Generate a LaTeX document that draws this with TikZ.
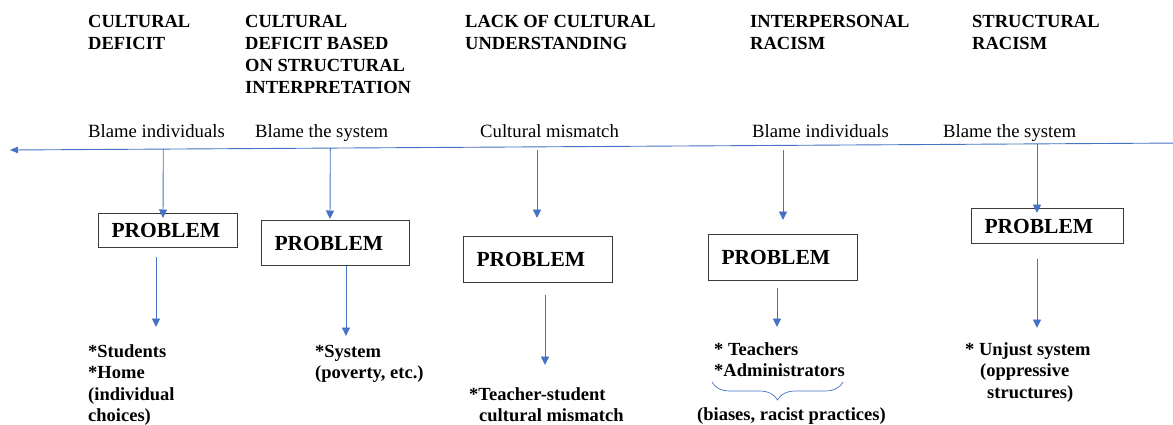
\documentclass[tikz,border=0pt]{standalone}
\usepackage{fontspec}
\setmainfont{Liberation Serif}
\usepackage{xcolor}
\definecolor{LINEcolor}{HTML}{4472C4}
\definecolor{BOXcolor}{HTML}{3A3A3A}
\usepackage{tikz}
\usetikzlibrary{arrows.meta, decorations.pathreplacing}

\begin{document}
\begin{tikzpicture}[x=1pt, y=-1pt]
    \tikzset{%
        heading/.style={anchor=base west, inner sep=0, align=left,
                font=\fontsize{18.5}{22}\selectfont\bfseries},
        blame/.style={anchor=base west, inner sep=0,
                font=\fontsize{18.7}{22}\selectfont},
        effect/.style={anchor=base west, inner sep=0, align=left,
                font=\fontsize{18.5}{21.5}\selectfont\bfseries},
        problem/.style args={#1/#2}{draw=BOXcolor, line width=1pt, anchor=north west,
                inner xsep=13pt, inner ysep=0, text width={#1-26pt}, minimum height=#2,
                align=left, font=\fontsize{21.5}{24}\selectfont\bfseries},
        flow/.style={draw=LINEcolor, line width=0.9pt, -{Triangle[length=8.5pt, width=8pt]}},
    }

    \useasboundingbox (0, 0) rectangle (1173, 424);

    % headings (base anchor sits on the last line)
    \node [heading] (hdeficit) at (88, 49) {CULTURAL\\DEFICIT};
    \node [heading] (hstructdeficit) at (245, 93) {CULTURAL\\DEFICIT BASED\\ON STRUCTURAL\\INTERPRETATION};
    \node [heading] (hlack) at (465, 49) {LACK OF CULTURAL\\UNDERSTANDING};
    \node [heading] (hinter) at (750, 49) {INTERPERSONAL\\RACISM};
    \node [heading] (hstruct) at (972, 49) {STRUCTURAL\\RACISM};

    % labels above the time line
    \node [blame] (bdeficit) at (88, 137) {Blame individuals};
    \node [blame] (bstructdeficit) at (255, 137) {Blame the system};
    \node [blame] (black) at (480, 137) {Cultural mismatch};
    \node [blame] (binter) at (752, 137) {Blame individuals};
    \node [blame] (bstruct) at (943, 137) {Blame the system};

    % time line
    \coordinate (timeL) at (10, 150);
    \coordinate (timeR) at (1182, 143);
    \draw [draw=LINEcolor, line width=0.9pt, {Triangle[length=8pt, width=6.5pt]}-{Triangle[length=8pt, width=6.5pt]}] (timeL) -- (timeR);

    \path (timeL) -- (timeR)
        coordinate [pos=0.1308] (up1)
        coordinate [pos=0.2733] (up2)
        coordinate [pos=0.8763] (up5);
    \coordinate (up3) at (537, 150);
    \coordinate (up4) at (783, 150);

    % problem boxes
    \node [problem=139pt/34pt] (box1) at (98, 213) {PROBLEM};
    \node [problem=148pt/45pt] (box2) at (261, 220) {PROBLEM};
    \node [problem=149pt/46pt] (box3) at (463, 236) {PROBLEM};
    \node [problem=149pt/46pt] (box4) at (708, 234) {PROBLEM};
    \node [problem=152pt/35pt] (box5) at (971, 208) {PROBLEM};

    \coordinate (dn1) at (163, 218);
    \coordinate (dn2) at (330, 219);
    \coordinate (dn3) at (537, 218);
    \coordinate (dn4) at (783, 220);
    \coordinate (dn5) at (1037, 213);
    \draw [flow] (up1) -- (dn1);
    \draw [flow] (up2) -- (dn2);
    \draw [flow] (up3) -- (dn3);
    \draw [flow] (up4) -- (dn4);
    \draw [flow] (up5 -| dn5) -- (dn5);

    % who is blamed
    \node [effect] (students) at (88, 421.5) {*Students\\*Home\\(individual\\choices)};
    \node [effect] (system) at (315, 378.5) {*System\\(poverty, etc.)};
    \node [effect] (mismatch) at (469, 421.5) {*Teacher-student\\\hspace*{10pt}cultural mismatch};
    \node [effect] (teachers) at (714, 376.5) {* Teachers\\*Administrators};
    \node [effect] (biases) at (697, 420) {(biases, racist practices)};
    \node [effect] (unjust) at (965, 398) {* Unjust system\\\hspace*{15pt}(oppressive\\\hspace*{22pt}structures)};

    \coordinate (tip1) at (156, 327);
    \coordinate (tip2) at (346, 336);
    \coordinate (tip3) at (545, 365);
    \coordinate (tip4) at (777, 327);
    \coordinate (tip5) at (1037, 328);
    \draw [flow, shorten <=9pt] (box1.south -| tip1) -- (tip1);
    \draw [flow] (box2.south -| tip2) -- (tip2);
    \draw [flow, shorten <=12pt] (box3.south -| tip3) -- (tip3);
    \draw [flow, shorten <=7pt] (box4.south -| tip4) -- (tip4);
    \draw [flow, shorten <=15pt] (box5.south -| tip5) -- (tip5);

    % brace over the biases
    \coordinate (braceL) at (712, 382);
    \coordinate (braceR) at (843, 382);
    \draw [draw=LINEcolor, line width=0.7pt, decorate,
        decoration={brace, mirror, amplitude=18pt, aspect=0.5}] (braceL) -- (braceR);
\end{tikzpicture}
\end{document}
